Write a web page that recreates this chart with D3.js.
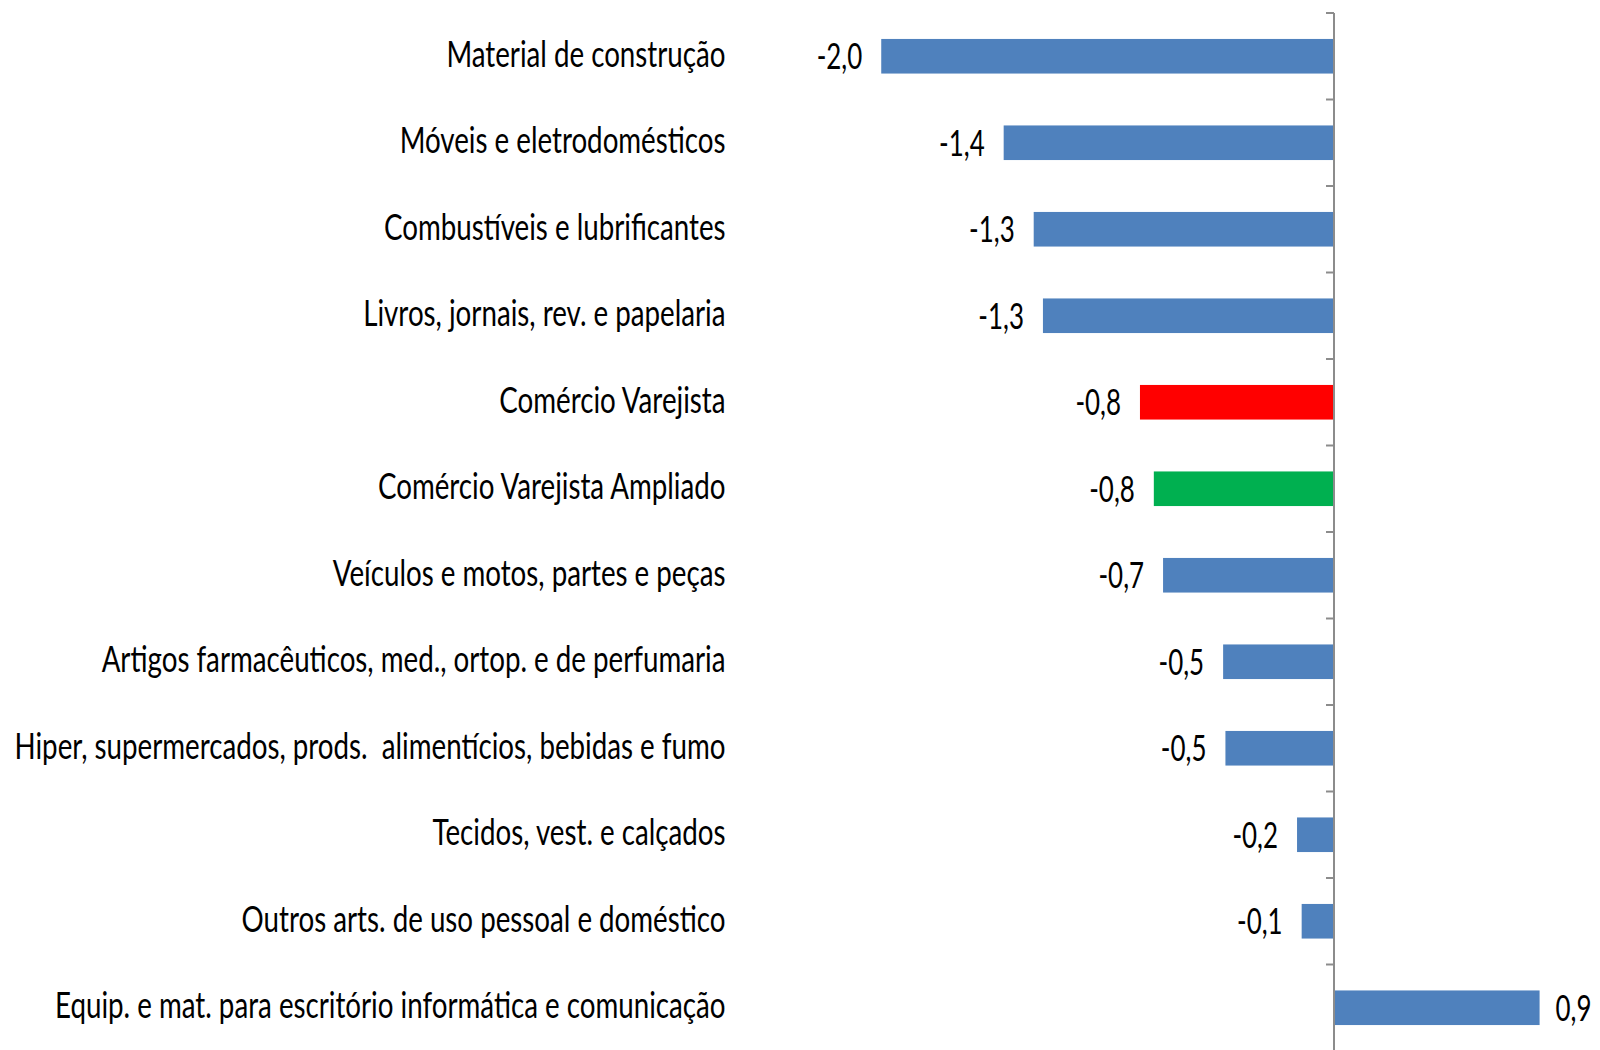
<!DOCTYPE html>
<html>
<head>
<meta charset="utf-8">
<script src="https://cdn.jsdelivr.net/npm/d3@7"></script>
<style>
  html, body { margin: 0; padding: 0; background: #fff; }
  svg text { font-family: Lato, "Open Sans", sans-serif; fill: #000; white-space: pre; }
</style>
</head>
<body>
<svg id="chart" width="1600" height="1050"></svg>
<script>
// categories, top to bottom
const categories = [
  'Material de construção',
  'Móveis e eletrodomésticos',
  'Combustíveis e lubrificantes',
  'Livros, jornais, rev. e papelaria',
  'Comércio Varejista',
  'Comércio Varejista Ampliado',
  'Veículos e motos, partes e peças',
  'Artigos farmacêuticos, med., ortop. e de perfumaria',
  'Hiper, supermercados, prods.  alimentícios, bebidas e fumo',
  'Tecidos, vest. e calçados',
  'Outros arts. de uso pessoal e doméstico',
  'Equip. e mat. para escritório informática e comunicação'
];

// % change
const values = [-1.96, -1.43, -1.30, -1.26, -0.84, -0.78, -0.74, -0.48, -0.47, -0.16, -0.14, 0.89];

const xDomain = [-2, 1];

// colours
const barColor = '#4F81BD';
const highlight = {
  'Comércio Varejista': '#FF0000',
  'Comércio Varejista Ampliado': '#00B050'
};

const width = 1600;
const height = 1050;
const fontSize = 36;
const squeezeCat = 0.77;  // narrow text like the original
const squeezeVal = 0.72;

const svg = d3.select('#chart');

const x = d3.scaleLinear()
  .domain(xDomain)
  .range([872, 1565]);

const y = d3.scaleBand()
  .domain(categories)
  .range([13, 13 + 86.5 * categories.length])
  .paddingInner(0.6)
  .paddingOuter(0.3);

// bars
svg.append('g')
  .selectAll('rect')
  .data(categories)
  .join('rect')
  .attr('x', (d, i) => x(Math.min(0, values[i])))
  .attr('y', d => y(d))
  .attr('width', (d, i) => Math.abs(x(values[i]) - x(0)))
  .attr('height', y.bandwidth())
  .attr('fill', d => highlight[d] || barColor);

// vertical category axis with ticks between bands
const step = y.step();
const axisTop = y.range()[0];
const tickYs = d3.range(categories.length + 1).map(i => axisTop + i * step);

const axis = svg.append('g').attr('stroke', '#8C8C8C').attr('stroke-width', 2);
axis.append('line')
  .attr('x1', x(0)).attr('x2', x(0))
  .attr('y1', axisTop).attr('y2', height);
axis.selectAll('.tick')
  .data(tickYs)
  .join('line')
  .attr('class', 'tick')
  .attr('x1', x(0) - 8).attr('x2', x(0))
  .attr('y1', d => d).attr('y2', d => d);

// category labels
const cy = d => y(d) + y.bandwidth() / 2;
svg.append('g')
  .selectAll('text')
  .data(categories)
  .join('text')
  .attr('transform', d => `translate(725.5,${cy(d) + 10.5}) scale(${squeezeCat},1)`)
  .attr('text-anchor', 'end')
  .attr('font-size', fontSize)
  .text(d => d);

// value labels
const fmt = v => d3.format('.1f')(v).replace('.', ',').replace('−', '-');
svg.append('g')
  .selectAll('text')
  .data(categories)
  .join('text')
  .attr('transform', (d, i) => {
    const v = values[i];
    const lx = v < 0 ? x(v) - 19 : x(v) + 16;
    return `translate(${lx},${cy(d) + 13}) scale(${squeezeVal},1)`;
  })
  .attr('text-anchor', (d, i) => values[i] < 0 ? 'end' : 'start')
  .attr('font-size', fontSize)
  .text((d, i) => fmt(values[i]));
</script>
</body>
</html>
